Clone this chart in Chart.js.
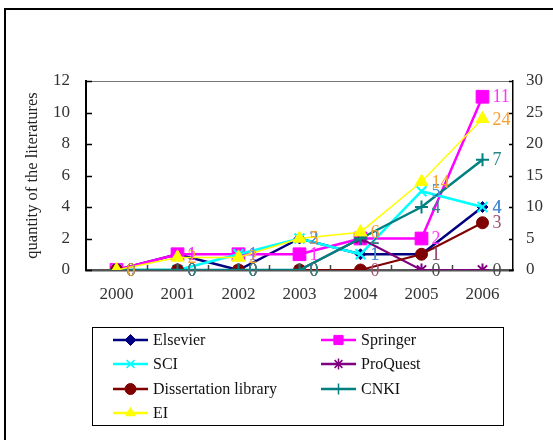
<!DOCTYPE html>
<html>
<head>
<meta charset="utf-8">
<script src="https://cdn.jsdelivr.net/npm/chart.js"></script>
<style>
  html, body { margin: 0; padding: 0; background: #fff; }
  #wrap { position: relative; width: 553px; height: 440px; }
</style>
</head>
<body>
<div id="wrap"><canvas id="litChart" width="553" height="440"></canvas></div>
<script>
// years on the x axis
const years = ['2000', '2001', '2002', '2003', '2004', '2005', '2006'];

// number of papers per database
const elsevier = [0, 1, 0, 2, 1, 1, 4];
const springer = [0, 1, 1, 1, 2, 2, 11];
const sci = [0, 0, 1, 2, 1, 5, 4];
const proquest = [0, 0, 0, 0, 2, 0, 0];
const dissertation = [0, 0, 0, 0, 0, 1, 3];
const cnki = [0, 0, 0, 0, 2, 4, 7];
const ei = [0, 2, 2, 5, 6, 14, 24];   // plotted on the right axis

const leftTicks = [0, 2, 4, 6, 8, 10, 12];
const rightTicks = [0, 5, 10, 15, 20, 25, 30];

const seriesNames = ['Elsevier', 'Springer', 'SCI', 'ProQuest', 'Dissertation library', 'CNKI', 'EI'];
const seriesValues = [elsevier, springer, sci, proquest, dissertation, cnki, ei];

// styles
const lineColors = ['#000080', '#ff00ff', '#00ffff', '#800080', '#800000', '#008080', '#ffff00'];
const labelColors = ['#1f5fa8', '#ff33ff', '#4a90d9', '#4a4a4a', '#a05070', '#2a8585', '#f5a030'];
const markers = ['rectRot', 'rect', 'crossRot', 'star', 'circle', 'cross', 'triangle'];
const markerSizes = [5.5, 9, 7, 6.5, 6, 6.5, 7.5];
const lineWidths = [2.5, 2.5, 2.5, 2, 2, 2.5, 1.5];
const FONT = '"Liberation Serif", "Times New Roman", serif';

const datasets = seriesNames.map((name, i) => {
    const crossy = ['crossRot', 'star', 'cross'].includes(markers[i]);
    return {
        label: name,
        data: seriesValues[i],
        yAxisID: name === 'EI' ? 'y1' : 'y',
        borderColor: lineColors[i],
        backgroundColor: lineColors[i],
        borderWidth: lineWidths[i],
        pointStyle: markers[i],
        pointRadius: markerSizes[i],
        pointBorderWidth: crossy ? 2 : 1,
        pointBorderColor: lineColors[i],
        pointBackgroundColor: lineColors[i],
        tension: 0,
        fill: false,
        order: seriesNames.length - i,   // later series on top
        labelColor: labelColors[i]
    };
});

// value labels to the right of every point
const valueLabels = {
    id: 'valueLabels',
    afterDatasetsDraw(chart) {
        const ctx = chart.ctx;
        ctx.save();
        ctx.font = '18px ' + FONT;
        ctx.textBaseline = 'middle';
        ctx.textAlign = 'left';
        chart.data.datasets.forEach((ds, i) => {
            const meta = chart.getDatasetMeta(i);
            ctx.fillStyle = ds.labelColor;
            meta.data.forEach((pt, j) => {
                ctx.fillText(String(ds.data[j]), pt.x + 10, pt.y + 1);
            });
        });
        ctx.restore();
    }
};

function marker(ctx, style, r, x, y, bw) {
    if (Chart.helpers && Chart.helpers.drawPoint) {
        Chart.helpers.drawPoint(ctx, {pointStyle: style, radius: r, rotation: 0, borderWidth: bw}, x, y);
    } else {
        ctx.beginPath();
        ctx.arc(x, y, r, 0, Math.PI * 2);
        ctx.fill();
    }
}

// frame, inward tick marks and the two-column legend
const frame = {
    id: 'frame',
    afterDraw(chart) {
        const ctx = chart.ctx;
        const area = chart.chartArea;
        const xs = chart.scales.x, yl = chart.scales.y, yr = chart.scales.y1;
        ctx.save();

        // outer border
        ctx.strokeStyle = '#000';
        ctx.lineWidth = 2;
        ctx.beginPath();
        ctx.moveTo(5, 440);
        ctx.lineTo(5, 9);
        ctx.lineTo(553, 9);
        ctx.stroke();

        // top edge of the plot
        ctx.strokeStyle = '#777';
        ctx.lineWidth = 1;
        ctx.beginPath();
        ctx.moveTo(area.left, area.top + 0.5);
        ctx.lineTo(area.right, area.top + 0.5);
        ctx.stroke();

        // ticks
        ctx.strokeStyle = '#000';
        ctx.lineWidth = 1.5;
        ctx.beginPath();
        leftTicks.forEach(v => {
            const y = Math.round(yl.getPixelForValue(v)) + 0.5;
            ctx.moveTo(area.left, y);
            ctx.lineTo(area.left + 6, y);
        });
        rightTicks.forEach(v => {
            const y = Math.round(yr.getPixelForValue(v)) + 0.5;
            ctx.moveTo(area.right, y);
            ctx.lineTo(area.right - 4, y);
        });
        ctx.stroke();
        ctx.strokeStyle = '#444';
        ctx.beginPath();
        for (let i = 0; i < years.length - 1; i++) {
            const x = Math.round((xs.getPixelForValue(i) + xs.getPixelForValue(i + 1)) / 2) + 0.5;
            ctx.moveTo(x, area.bottom);
            ctx.lineTo(x, area.bottom - 5);
        }
        ctx.stroke();

        // legend
        ctx.strokeStyle = '#000';
        ctx.lineWidth = 1;
        ctx.strokeRect(92.5, 327.5, 411, 98);
        const colX = [113, 321];
        const rowY = [340, 364, 389, 413];
        ctx.font = '16px ' + FONT;
        ctx.textBaseline = 'middle';
        seriesNames.forEach((name, i) => {
            const x = colX[i % 2], y = rowY[Math.floor(i / 2)];
            ctx.strokeStyle = lineColors[i];
            ctx.fillStyle = lineColors[i];
            ctx.lineWidth = 2.5;
            ctx.beginPath();
            ctx.moveTo(x, y);
            ctx.lineTo(x + 35, y);
            ctx.stroke();
            const crossy = ['crossRot', 'star', 'cross'].includes(markers[i]);
            ctx.lineWidth = crossy ? 1.5 : 1;
            marker(ctx, markers[i], markers[i] === 'rect' ? 6.5 : 5.5, x + 17.5, y, ctx.lineWidth);
            ctx.fillStyle = '#111';
            ctx.fillText(name, x + 40, y + 1);
        });
        ctx.restore();
    }
};

new Chart(document.getElementById('litChart'), {
    type: 'line',
    data: { labels: years, datasets: datasets },
    options: {
        responsive: false,
        animation: false,
        events: [],
        layout: { padding: { top: 81, left: 0, right: 0, bottom: 0 } },
        plugins: { legend: { display: false }, tooltip: { enabled: false } },
        scales: {
            x: {
                offset: true,
                grid: { display: false, drawTicks: false },
                border: { display: true, color: '#555', width: 2.5 },
                ticks: { color: '#333', padding: 14, font: { family: FONT, size: 17 } },
                afterFit(s) { s.height = 170; }
            },
            y: {
                position: 'left',
                min: 0, max: 12,
                afterBuildTicks(s) { s.ticks = leftTicks.map(v => ({ value: v })); },
                grid: { display: false, drawTicks: false },
                border: { display: true, color: '#000', width: 2 },
                ticks: { color: '#333', padding: 16, font: { family: FONT, size: 17 } },
                title: {
                    display: true,
                    text: 'quantity of the literatures',
                    color: '#222',
                    font: { family: FONT, size: 16.5 },
                    padding: { top: 23, bottom: 0 }
                },
                afterFit(s) { s.width = 86; }
            },
            y1: {
                position: 'right',
                min: 0, max: 30,
                afterBuildTicks(s) { s.ticks = rightTicks.map(v => ({ value: v })); },
                grid: { display: false, drawTicks: false },
                border: { display: true, color: '#000', width: 1.5 },
                ticks: { color: '#333', padding: 13, font: { family: FONT, size: 17 } },
                afterFit(s) { s.width = 40; }
            }
        }
    },
    plugins: [valueLabels, frame]
});
</script>
</body>
</html>
